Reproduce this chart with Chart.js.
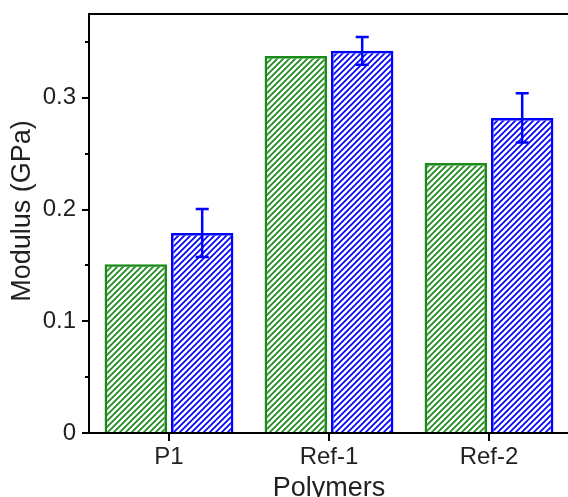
<!DOCTYPE html>
<html>
<head>
<meta charset="utf-8">
<script src="https://cdn.jsdelivr.net/npm/chart.js@4"></script>
<style>
  html, body { margin: 0; padding: 0; background: #fff; overflow: hidden; }
  #wrap { width: 568px; height: 497px; overflow: hidden; position: relative; }
  #wrap canvas { position: absolute; left: 0; top: 0; }
</style>
</head>
<body>
<div id="wrap"><canvas id="chart" width="572" height="505"></canvas></div>
<script>
// dados
const categories = ["P1", "Ref-1", "Ref-2"];
const greenValues = [0.151, 0.3375, 0.2417];
const blueValues = [0.179, 0.342, 0.282];
const blueErrors = [0.0215, 0.0125, 0.022];
const yTicks = [0, 0.1, 0.2, 0.3];
const yMinorTicks = [0.05, 0.15, 0.25, 0.35];
const yTitle = "Modulus (GPa)";
const xTitle = "Polymers";

const GREEN = "#1a8a1a";
const BLUE = "#0000ff";
const TEXT = "#231f20";
const FONT = "Liberation Sans, Arial, sans-serif";

// padrão de hachura diagonal
function hatch(color) {
    const s = 6;
    const c = document.createElement("canvas");
    c.width = s; c.height = s;
    const g = c.getContext("2d");
    g.strokeStyle = color;
    g.lineWidth = 1.7;
    g.beginPath();
    g.moveTo(-1, s + 1); g.lineTo(s + 1, -1);
    g.moveTo(-1, 1); g.lineTo(1, -1);
    g.moveTo(s - 1, s + 1); g.lineTo(s + 1, s - 1);
    g.stroke();
    return g.createPattern(c, "repeat");
}

const ctx = document.getElementById("chart").getContext("2d");

// moldura, ticks menores, barras de erro e título do eixo y
const extras = {
    id: "extras",
    afterDatasetsDraw(chart) {
        const c = chart.ctx;
        const a = chart.chartArea;
        const y = chart.scales.y;
        c.save();
        // barras de erro da série azul
        const meta = chart.getDatasetMeta(1);
        c.strokeStyle = BLUE;
        c.lineWidth = 2.5;
        meta.data.forEach((bar, i) => {
            const top = y.getPixelForValue(blueValues[i] + blueErrors[i]);
            const bot = y.getPixelForValue(blueValues[i] - blueErrors[i]);
            c.beginPath();
            c.moveTo(bar.x, top); c.lineTo(bar.x, bot);
            c.moveTo(bar.x - 6.5, top); c.lineTo(bar.x + 6.5, top);
            c.moveTo(bar.x - 6.5, bot); c.lineTo(bar.x + 6.5, bot);
            c.stroke();
        });
        // moldura
        c.strokeStyle = "#000";
        c.lineWidth = 2;
        c.strokeRect(a.left, a.top, a.right - a.left, a.bottom - a.top);
        // ticks menores
        yMinorTicks.forEach(v => {
            const py = Math.round(y.getPixelForValue(v));
            c.beginPath();
            c.moveTo(a.left - 4, py); c.lineTo(a.left, py);
            c.stroke();
        });
        // título do eixo y
        c.fillStyle = TEXT;
        c.font = "27px " + FONT;
        c.textAlign = "center";
        c.textBaseline = "middle";
        c.translate(23, 211);
        c.rotate(-Math.PI / 2);
        c.fillText(yTitle, 0, 0);
        c.restore();
    }
};

new Chart(ctx, {
    type: "bar",
    data: {
        labels: categories,
        datasets: [
            {
                data: greenValues,
                backgroundColor: hatch(GREEN),
                borderColor: GREEN,
                borderWidth: 2.5,
                borderSkipped: "start"
            },
            {
                data: blueValues,
                backgroundColor: hatch(BLUE),
                borderColor: BLUE,
                borderWidth: 2.5,
                borderSkipped: "start"
            }
        ]
    },
    options: {
        responsive: false,
        animation: false,
        layout: { padding: { top: 14, left: 0, right: 3, bottom: 0 } },
        plugins: { legend: { display: false }, tooltip: { enabled: false } },
        datasets: { bar: { categoryPercentage: 0.83, barPercentage: 0.94 } },
        scales: {
            x: {
                grid: {
                    display: true, drawOnChartArea: false, offset: false,
                    tickLength: 8, color: "#000", lineWidth: 2
                },
                border: { display: true, color: "#000", width: 2 },
                ticks: { color: TEXT, font: { family: FONT, size: 24 }, padding: 2, maxRotation: 0 },
                title: {
                    display: true, text: xTitle, color: TEXT,
                    font: { family: FONT, size: 27 }, padding: { top: 0, bottom: 0 }
                },
                afterFit(scale) { scale.height = 72; scale.paddingLeft = 0; scale.paddingRight = 0; }
            },
            y: {
                min: 0,
                max: 0.375,
                afterBuildTicks(scale) { scale.ticks = yTicks.map(v => ({ value: v })); },
                grid: {
                    display: true, drawOnChartArea: false,
                    tickLength: 7, color: "#000", lineWidth: 2
                },
                border: { display: true, color: "#000", width: 2 },
                ticks: {
                    color: TEXT, font: { family: FONT, size: 24 }, padding: 6,
                    callback: v => v === 0 ? "0" : v.toFixed(1)
                },
                afterFit(scale) { scale.width = 89; scale.paddingTop = 0; scale.paddingBottom = 0; }
            }
        }
    },
    plugins: [extras]
});
</script>
</body>
</html>
